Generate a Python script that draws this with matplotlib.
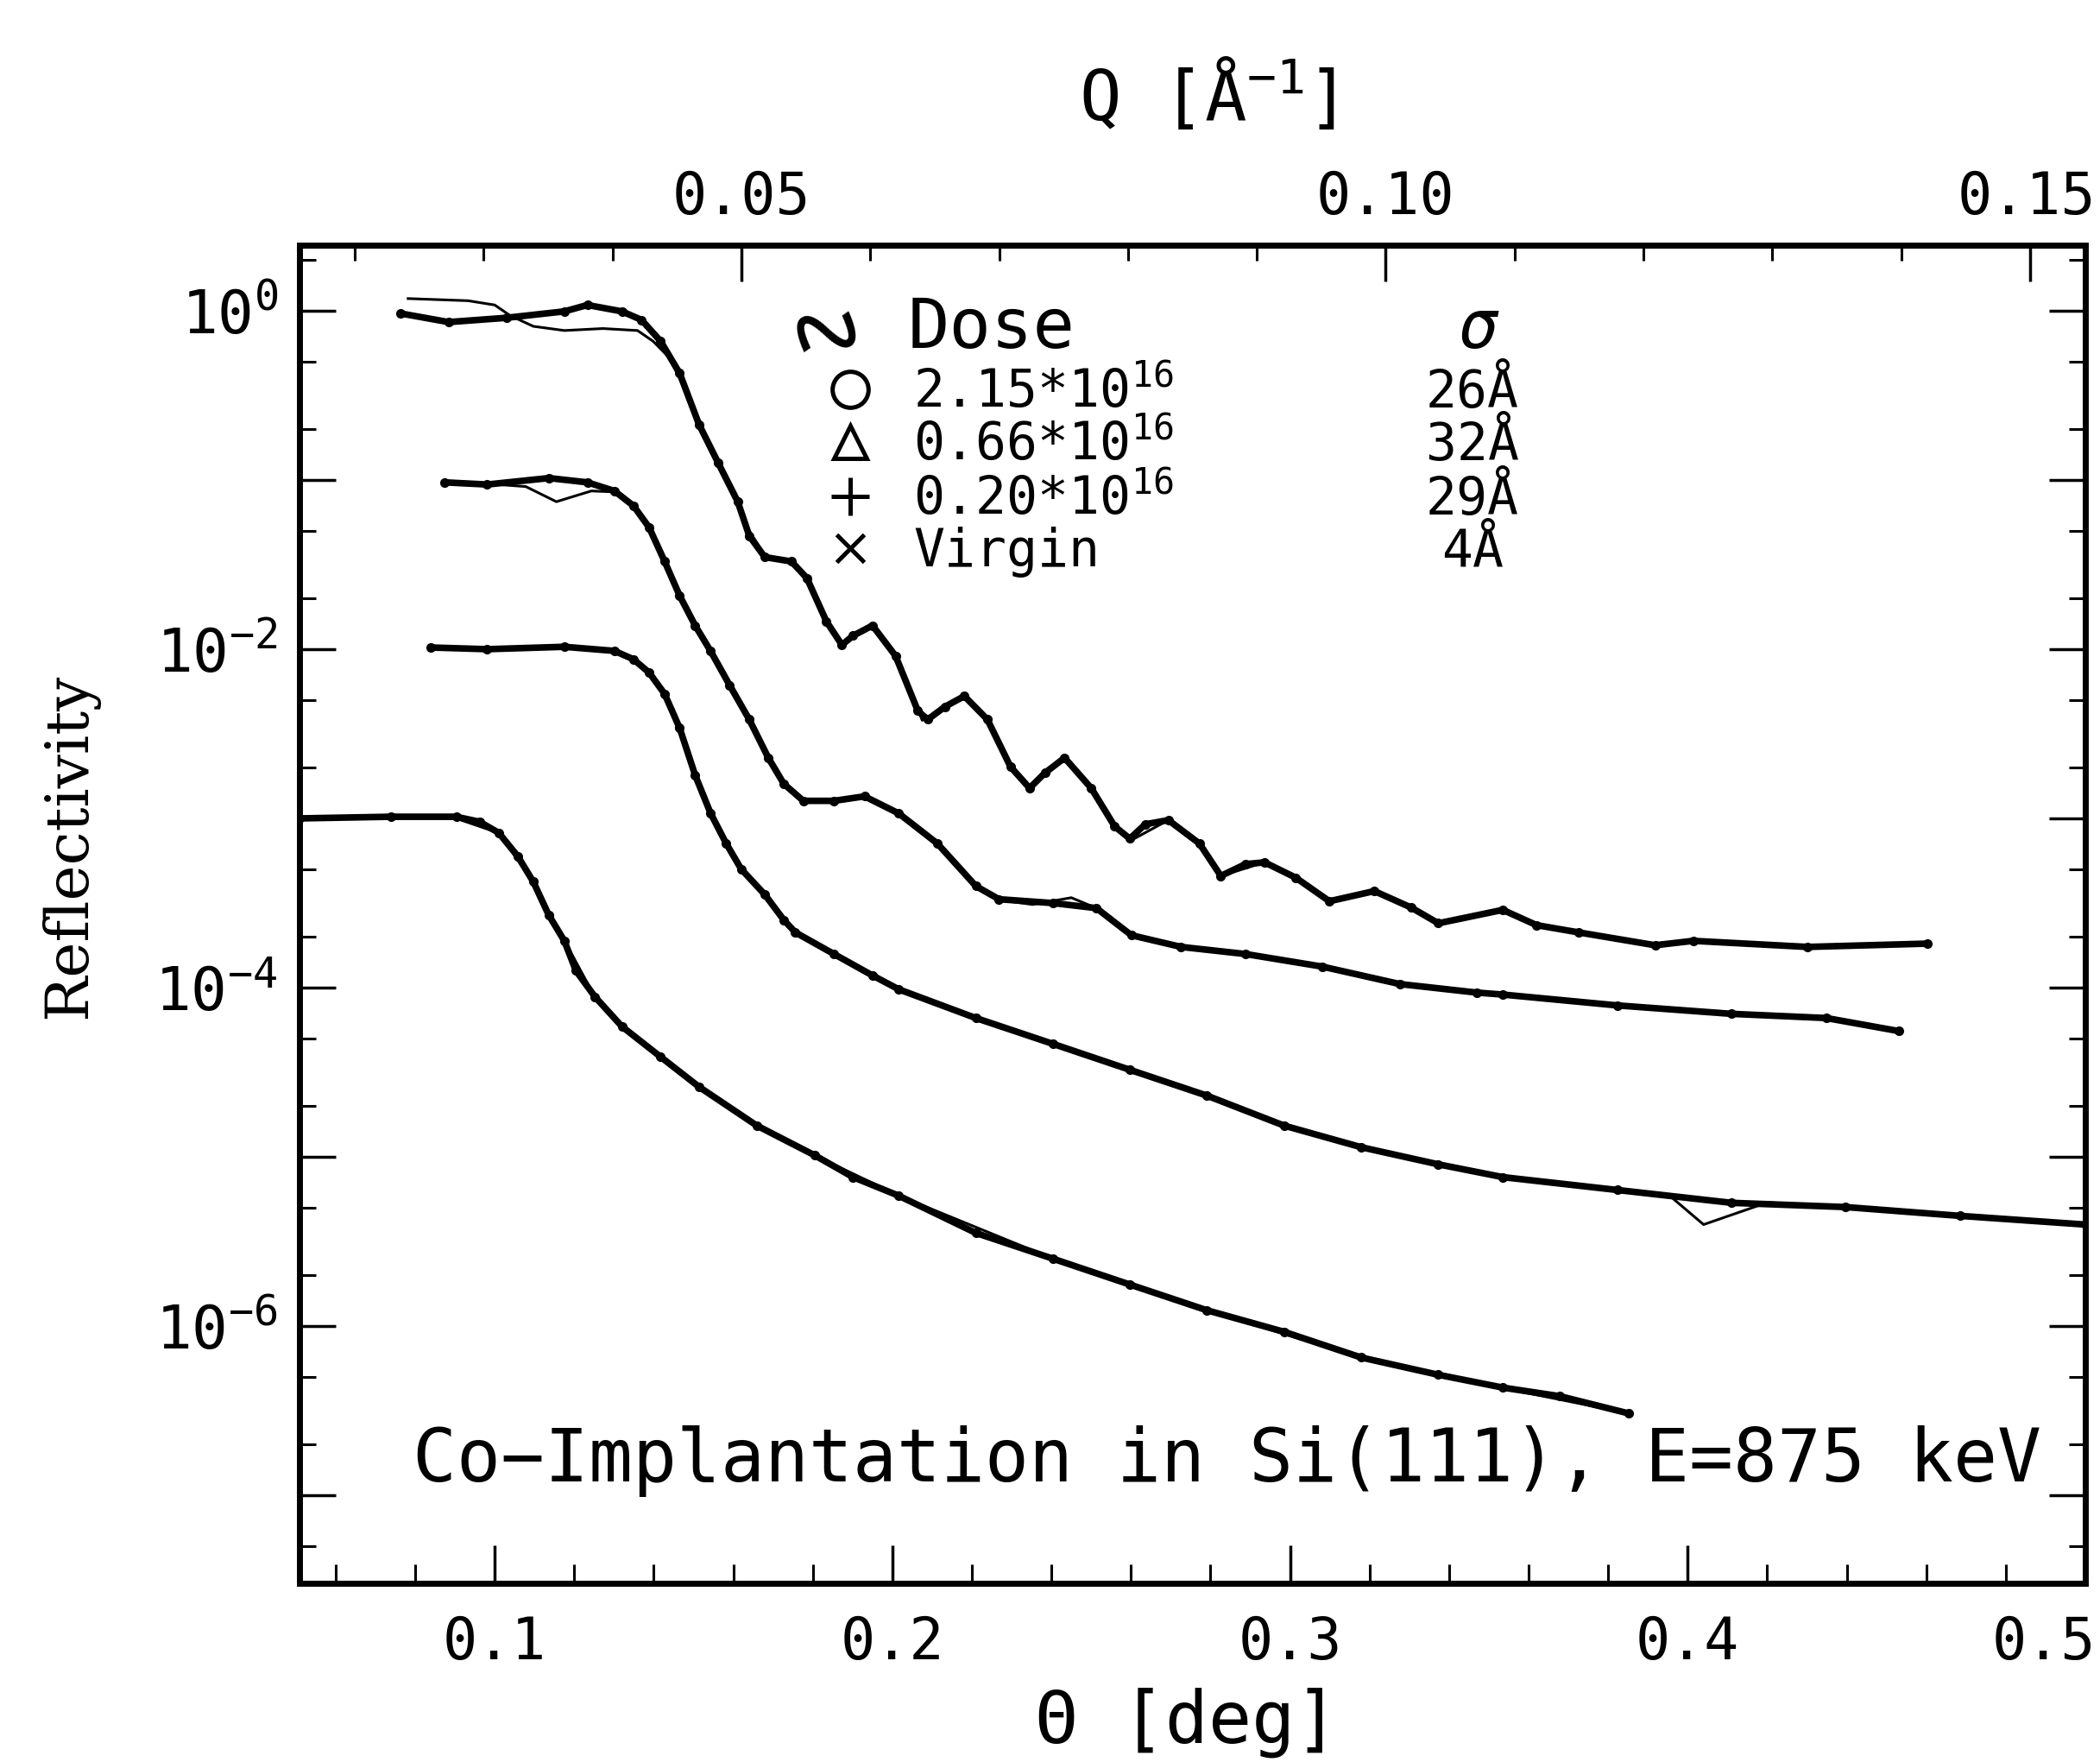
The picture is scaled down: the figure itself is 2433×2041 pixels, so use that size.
import numpy as np
import matplotlib
matplotlib.use("Agg")
import matplotlib.pyplot as plt
from matplotlib.lines import Line2D
from matplotlib.transforms import ScaledTranslation
from matplotlib.ticker import FixedLocator, FixedFormatter, MultipleLocator, LogLocator, NullFormatter

plt.rcParams['font.family'] = ['DejaVu Sans Mono', 'DejaVu Sans']
plt.rcParams['mathtext.fontset'] = 'custom'
plt.rcParams['mathtext.rm'] = 'DejaVu Sans Mono'
plt.rcParams['mathtext.it'] = 'DejaVu Sans Mono:italic'
plt.rcParams['mathtext.bf'] = 'DejaVu Sans Mono:bold'

# ---------------- data ----------------
# measured data, dose 2.15e16 (offset x1)
theta_215 = [0.0763, 0.0884, 0.1029, 0.1175, 0.1233, 0.1320, 0.1369, 0.1417, 0.1465, 0.1514,
             0.1562, 0.1611, 0.1640, 0.1679, 0.1746, 0.1785, 0.1834, 0.1873, 0.1901, 0.1950,
             0.2008, 0.2064, 0.2089, 0.2132, 0.2181, 0.2239, 0.2297, 0.2345, 0.2384, 0.2433,
             0.2500, 0.2559, 0.2597, 0.2636, 0.2694, 0.2772, 0.2826, 0.2888, 0.2936, 0.3014,
             0.3099, 0.3212, 0.3305, 0.3373, 0.3535, 0.3620, 0.3726, 0.3918, 0.4014, 0.4301,
             0.4603]
refl_215 = [0.964, 0.857, 0.908, 0.991, 1.081, 0.991, 0.883, 0.661, 0.427, 0.212,
            0.126, 0.0745, 0.0468, 0.0350, 0.0330, 0.0263, 0.0146, 0.0106, 0.0120, 0.0138,
            0.00912, 0.00432, 0.00384, 0.00457, 0.00528, 0.00384, 0.00202, 0.00151, 0.00186, 0.00228,
            0.00151, 8.97e-4, 7.59e-4, 9.23e-4, 9.77e-4, 7.11e-4, 4.57e-4, 5.37e-4, 5.50e-4, 4.47e-4,
            3.24e-4, 3.72e-4, 2.97e-4, 2.40e-4, 2.88e-4, 2.34e-4, 2.12e-4, 1.78e-4, 1.89e-4, 1.74e-4,
            1.82e-4]

# measured data, dose 0.66e16 (offset x0.1)
theta_066 = [0.0874, 0.0981, 0.1136, 0.1233, 0.1301, 0.1349, 0.1388, 0.1427, 0.1465, 0.1504,
             0.1543, 0.1591, 0.1640, 0.1688, 0.1727, 0.1776, 0.1853, 0.1930, 0.2016, 0.2113,
             0.2210, 0.2268, 0.2404, 0.2513, 0.2601, 0.2726, 0.2888, 0.3082, 0.3276, 0.3469,
             0.3535, 0.3823, 0.4110, 0.4349, 0.4532]
refl_066 = [0.0968, 0.0940, 0.1026, 0.0968, 0.0861, 0.0703, 0.0525, 0.0331, 0.0207, 0.0138,
            0.00973, 0.00611, 0.00384, 0.00228, 0.00160, 0.00127, 0.00127, 0.00135, 0.00107, 7.11e-4,
            3.98e-4, 3.33e-4, 3.16e-4, 2.95e-4, 2.04e-4, 1.74e-4, 1.58e-4, 1.33e-4, 1.05e-4, 9.35e-5,
            9.10e-5, 7.85e-5, 7.00e-5, 6.61e-5, 5.53e-5]

# measured data, dose 0.20e16 (offset x0.01)
theta_020 = [0.0840, 0.0981, 0.1175, 0.1301, 0.1349, 0.1388, 0.1427, 0.1465, 0.1504, 0.1543,
             0.1582, 0.1620, 0.1679, 0.1727, 0.1756, 0.1853, 0.1950, 0.2016, 0.2210, 0.2404,
             0.2597, 0.2791, 0.2985, 0.3179, 0.3372, 0.3535, 0.3823, 0.4110, 0.4397, 0.4685,
             0.5000]
refl_020 = [0.01023, 0.0100, 0.01033, 0.00977, 0.00871, 0.00728, 0.00545, 0.00342, 0.00180, 0.00107,
            7.11e-4, 5.01e-4, 3.55e-4, 2.51e-4, 2.12e-4, 1.58e-4, 1.18e-4, 9.77e-5, 6.61e-5, 4.65e-5,
            3.27e-5, 2.30e-5, 1.53e-5, 1.14e-5, 9.04e-6, 7.59e-6, 6.37e-6, 5.35e-6, 5.05e-6, 4.48e-6,
            3.98e-6]

# measured data, virgin (offset x0.001)
theta_vir = [0.0509, 0.0739, 0.0903, 0.0962, 0.1010, 0.1058, 0.1097, 0.1136, 0.1175, 0.1204,
             0.1252, 0.1320, 0.1417, 0.1514, 0.1659, 0.1805, 0.1901, 0.2016, 0.2210, 0.2404,
             0.2597, 0.2791, 0.2985, 0.3179, 0.3372, 0.3535, 0.3679, 0.3851]
refl_vir = [1.0e-3, 1.023e-3, 1.023e-3, 9.55e-4, 8.22e-4, 5.97e-4, 4.22e-4, 2.68e-4, 1.89e-4, 1.26e-4,
            8.83e-5, 5.89e-5, 3.90e-5, 2.59e-5, 1.53e-5, 1.02e-5, 7.59e-6, 5.89e-6, 3.55e-6, 2.50e-6,
            1.76e-6, 1.24e-6, 9.25e-7, 6.52e-7, 5.16e-7, 4.33e-7, 3.85e-7, 3.05e-7]

# fitted curves
fit_theta_215 = [0.0782, 0.0933, 0.1000, 0.1039, 0.1097, 0.1175, 0.1272, 0.1359, 0.1398, 0.1440,
                 0.1490, 0.1540, 0.1590, 0.1640, 0.1680, 0.1746, 0.1790, 0.1834, 0.1873, 0.1950,
                 0.2010, 0.2075, 0.2181, 0.2240, 0.2297, 0.2345, 0.2433, 0.2500, 0.2559, 0.2600,
                 0.2694, 0.2772, 0.2826, 0.2936, 0.3014, 0.3099, 0.3212, 0.3305, 0.3373, 0.3535,
                 0.3620, 0.3726, 0.3918, 0.4014, 0.4301, 0.4603]
fit_refl_215 = [1.180, 1.146, 1.081, 0.935, 0.809, 0.764, 0.785, 0.764, 0.661, 0.525,
                0.302, 0.158, 0.0933, 0.0501, 0.0355, 0.0331, 0.0251, 0.0146, 0.0107, 0.0138,
                0.00912, 0.00380, 0.00525, 0.00380, 0.00204, 0.00155, 0.00229, 0.00151, 8.91e-4, 7.41e-4,
                9.77e-4, 7.08e-4, 4.57e-4, 5.50e-4, 4.47e-4, 3.24e-4, 3.72e-4, 2.95e-4, 2.40e-4, 2.88e-4,
                2.34e-4, 2.14e-4, 1.82e-4, 1.91e-4, 1.74e-4, 1.78e-4]

fit_theta_066 = [0.0874, 0.0981, 0.1078, 0.1155, 0.1243, 0.1301, 0.1349, 0.1388, 0.1427, 0.1465,
                 0.1504, 0.1543, 0.1591, 0.1640, 0.1688, 0.1727, 0.1776, 0.1853, 0.1930, 0.2016,
                 0.2113, 0.2210, 0.2268, 0.2352, 0.2450, 0.2513, 0.2601, 0.2726, 0.2888, 0.3082,
                 0.3276, 0.3469, 0.3823, 0.4110, 0.4349, 0.4532]
fit_refl_066 = [0.0968, 0.0950, 0.0914, 0.0744, 0.0861, 0.0850, 0.0703, 0.0525, 0.0331, 0.0207,
                0.0138, 0.00973, 0.00611, 0.00384, 0.00228, 0.00160, 0.00127, 0.00127, 0.00135, 0.00107,
                7.11e-4, 4.0e-4, 3.3e-4, 3.1e-4, 3.4e-4, 2.95e-4, 2.04e-4, 1.74e-4, 1.58e-4, 1.33e-4,
                1.05e-4, 9.35e-5, 7.85e-5, 7.00e-5, 6.61e-5, 5.6e-5]

fit_theta_020 = [0.0840, 0.0981, 0.1175, 0.1301, 0.1349, 0.1388, 0.1427, 0.1465, 0.1504, 0.1543,
                 0.1582, 0.1620, 0.1679, 0.1727, 0.1756, 0.1853, 0.1950, 0.2016, 0.2210, 0.2404,
                 0.2597, 0.2791, 0.2985, 0.3179, 0.3372, 0.3535, 0.3823, 0.3960, 0.4040, 0.4200,
                 0.4397, 0.4685, 0.5000]
fit_refl_020 = [0.0102, 0.0100, 0.0103, 0.00977, 0.00871, 0.00728, 0.00545, 0.00342, 0.00180, 0.00107,
                7.11e-4, 5.01e-4, 3.55e-4, 2.51e-4, 2.12e-4, 1.58e-4, 1.18e-4, 9.77e-5, 6.61e-5, 4.65e-5,
                3.27e-5, 2.30e-5, 1.53e-5, 1.14e-5, 9.04e-6, 7.59e-6, 6.37e-6, 5.75e-6, 3.98e-6, 5.37e-6,
                5.05e-6, 4.48e-6, 3.98e-6]

fit_theta_vir = [0.0509, 0.0903, 0.1010, 0.1097, 0.1175, 0.1252, 0.1320, 0.1417, 0.1514, 0.1659,
                 0.1805, 0.2016, 0.2404, 0.2791, 0.3179, 0.3535, 0.3851]
fit_refl_vir = [1.0e-3, 1.0e-3, 8.2e-4, 4.2e-4, 1.9e-4, 8.8e-5, 5.9e-5, 3.9e-5, 2.6e-5, 1.53e-5,
                1.02e-5, 5.9e-6, 2.5e-6, 1.24e-6, 6.5e-7, 4.3e-7, 3.05e-7]

legend_markers = ['o', '^', '+', 'x']
legend_doses = ['2.15*$\\mathregular{10^{16}}$', '0.66*$\\mathregular{10^{16}}$',
                '0.20*$\\mathregular{10^{16}}$', 'Virgin']
legend_sigma = ['26Å', '32Å', '29Å', '4Å']

x_major = [0.1, 0.2, 0.3, 0.4, 0.5]
x_major_labels = ['0.1', '0.2', '0.3', '0.4', '0.5']
q_major = [0.05, 0.10, 0.15]
q_major_labels = ['0.05', '0.10', '0.15']
y_major = [1e-7, 1e-6, 1e-5, 1e-4, 1e-3, 1e-2, 1e-1, 1e0]
y_major_labels = ['', '$\\mathregular{10^{-6}}$', '', '$\\mathregular{10^{-4}}$', '',
                  '$\\mathregular{10^{-2}}$', '', '$\\mathregular{10^{0}}$']

WAVELENGTH = 0.7107  # Angstrom (Mo K-alpha)

# ---------------- figure ----------------
W, H = 2433, 2041
fig = plt.figure(figsize=(W / 100, H / 100), dpi=100)


def fx(x):
    return x / W


def fy(y):
    return 1 - y / H


L, R, T, B = 347, 2416, 284, 1834
ax = fig.add_axes([fx(L), fy(B), fx(R) - fx(L), fy(T) - fy(B)])
ax.set_yscale('log')
ax.set_xlim(0.0509, 0.5)
ax.set_ylim(3.02e-8, 2.44)

series = [(theta_215, refl_215, fit_theta_215, fit_refl_215),
          (theta_066, refl_066, fit_theta_066, fit_refl_066),
          (theta_020, refl_020, fit_theta_020, fit_refl_020),
          (theta_vir, refl_vir, fit_theta_vir, fit_refl_vir)]
for th, rr, fth, frr in series:
    ax.plot(fth, frr, color='black', lw=2.2, zorder=2, solid_joinstyle='round')
    ax.plot(th, rr, color='black', lw=5.5, marker='o', ms=7, zorder=3,
            solid_joinstyle='round', solid_capstyle='round')

# spines
for s in ax.spines.values():
    s.set_linewidth(5)

# x axis (bottom)
ax.xaxis.set_major_locator(FixedLocator(x_major))
ax.xaxis.set_major_formatter(FixedFormatter(x_major_labels))
ax.xaxis.set_minor_locator(MultipleLocator(0.02))
ax.tick_params(axis='x', which='major', direction='in', length=32, width=2.5,
               labelsize=48, pad=26, top=False, bottom=True)
ax.tick_params(axis='x', which='minor', direction='in', length=16, width=2.2,
               top=False, bottom=True)

# y axis
ax.yaxis.set_major_locator(FixedLocator(y_major))
ax.yaxis.set_major_formatter(FixedFormatter(y_major_labels))
ax.yaxis.set_minor_locator(LogLocator(base=10, subs=(2.0, 5.0), numticks=30))
ax.yaxis.set_minor_formatter(NullFormatter())
ax.tick_params(axis='y', which='major', direction='in', length=30, width=2.5,
               labelsize=50, pad=18, left=True, right=True)
ax.tick_params(axis='y', which='minor', direction='in', length=14, width=2.2,
               left=True, right=True)


# top Q axis
def th2q(t):
    return 4 * np.pi * np.sin(np.deg2rad(t)) / WAVELENGTH


def q2th(q):
    return np.rad2deg(np.arcsin(np.clip(q * WAVELENGTH / (4 * np.pi), -1, 1)))


sec = ax.secondary_xaxis('top', functions=(th2q, q2th))
sec.set_xticks(q_major)
sec.set_xticklabels(q_major_labels)
sec.xaxis.set_minor_locator(MultipleLocator(0.01))
sec.tick_params(which='major', direction='in', length=30, width=2.5, labelsize=48, pad=16)
sec.tick_params(which='minor', direction='in', length=13, width=2.2)
sec.spines['top'].set_linewidth(5)

fig.canvas.draw()
last = ax.get_xticklabels()[-1]
last.set_horizontalalignment('right')
last.set_transform(last.get_transform() + ScaledTranslation(12 / 100, 0, fig.dpi_scale_trans))
lastq = sec.get_xticklabels()[-1]
lastq.set_horizontalalignment('right')
lastq.set_transform(lastq.get_transform() + ScaledTranslation(76 / 100, 0, fig.dpi_scale_trans))

# axis titles
fig.text(fx(80), fy(980), 'Reflectivity', rotation=90, ha='center', va='center',
         family='DejaVu Serif', fontsize=50)
fig.text(fx(1375), fy(1995), 'Θ [deg]', ha='center', va='center', fontsize=60)
fig.text(fx(1398), fy(112), 'Q [$\\mathregular{Å^{-1}}$]', ha='center', va='center', fontsize=58)

# annotation
fig.text(fx(2365), fy(1716), 'Co−Implantation in Si(111), E=875 keV', ha='right',
         va='baseline', fontsize=61)

# legend block
fig.text(fx(958), fy(381), '∿', rotation=35, ha='center', va='center', fontsize=80,
         family=['DejaVu Sans'])
fig.text(fx(1052), fy(403), 'Dose', ha='left', va='baseline', fontsize=58)
fig.text(fx(1713), fy(403), 'σ', ha='center', va='baseline', fontsize=56, style='italic')
row_base = [472, 533, 596, 656]
marker_sizes = [30, 28, 32, 23]
for mk, msz, dose, sig, yb in zip(legend_markers, marker_sizes, legend_doses, legend_sigma, row_base):
    fig.add_artist(Line2D([fx(985)], [fy(yb - 21)], transform=fig.transFigure, marker=mk,
                          ms=msz, mew=3.6, mfc='none', mec='black', ls='none'))
    fig.text(fx(1058), fy(yb), dose, ha='left', va='baseline', fontsize=43)
    fig.text(fx(1706), fy(yb), sig, ha='center', va='baseline', fontsize=43)

fig.savefig('out.png', dpi=100, facecolor='white')
